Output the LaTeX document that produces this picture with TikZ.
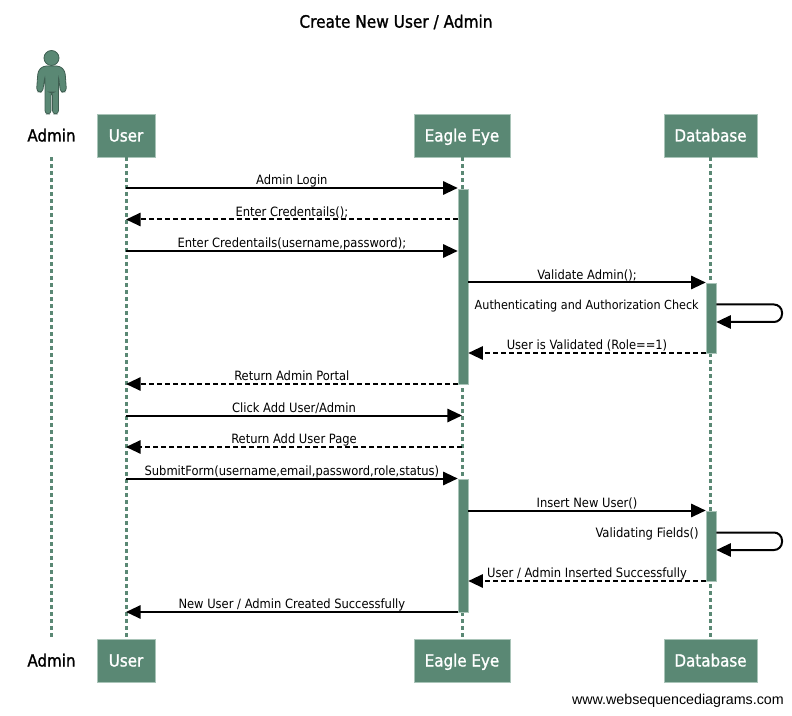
\documentclass[tikz,border=0pt]{standalone}
\usepackage{xcolor}
\usepackage{fontspec}
\usetikzlibrary{arrows.meta}
\setmainfont{DejaVu Sans Condensed}
\newfontfamily\headfont[FakeBold=1.2]{DejaVu Sans Condensed}
\newfontfamily\footfont{Liberation Sans}
\definecolor{seqgreen}{HTML}{5A8874}
\definecolor{seqedge}{HTML}{A9C4B8}
\definecolor{seqdark}{HTML}{3F5F52}
\tikzset{
  party/.style={draw=seqedge, fill=seqgreen, minimum height=32.25pt, inner sep=0pt,
               text height=11.5pt, text depth=2.5pt, align=center,
               font=\headfont\fontsize{12.6}{15}\selectfont, text=white},
  actorname/.style={minimum width=36pt, minimum height=32.25pt, inner sep=0pt,
               text height=11.5pt, text depth=2.5pt,
               font=\headfont\fontsize{12.6}{15}\selectfont, text=black},
  active/.style={draw=seqedge, fill=seqgreen, minimum width=7.5pt, inner sep=0pt},
  lifeline/.style={seqgreen, line width=2.25pt, dash pattern=on 3pt off 2.25pt},
  msg/.style={-{Triangle[length=11pt,width=10pt]}, line width=1.5pt, black},
  reply/.style={msg, dash pattern=on 3.75pt off 2.25pt},
  msgtext/.style={anchor=base, yshift=2.4pt, inner sep=0pt, font=\fontsize{9.6}{11}\selectfont},
  notetext/.style={anchor=east, inner sep=0pt, font=\fontsize{9.35}{11}\selectfont},
}
\begin{document}
\begin{tikzpicture}[x=0.75pt, y=-0.75pt]
  \useasboundingbox (0,0) rectangle (792,716);

  \node[font=\headfont\fontsize{12.8}{15}\selectfont] (title) at (396,22) {Create New User / Admin};

  % parties
  \node[actorname] (admintop) at (51.5,135.5) {Admin};
  \node[party, minimum width=43.5pt] (usertop) at (126,135.5) {User};
  \node[party, minimum width=72pt] (eagletop) at (462,135.5) {Eagle Eye};
  \node[party, minimum width=69.75pt] (dbtop) at (710.5,135.5) {Database};
  \node[actorname] (adminbot) at (51.5,660.5) {Admin};
  \node[party, minimum width=43.5pt] (userbot) at (126,660.5) {User};
  \node[party, minimum width=72pt] (eaglebot) at (462,660.5) {Eagle Eye};
  \node[party, minimum width=69.75pt] (dbbot) at (710.5,660.5) {Database};

  % actor figure
  \fill[seqgreen, draw=seqdark, line width=0.6pt] (51.5,58) circle (7.5);
  \fill[seqgreen, draw=seqdark, line width=0.6pt, rounded corners=2.5]
    (43,66) -- (60,66) -- (65,71) -- (66.5,91.5) -- (60.5,92.5) -- (58.5,76)
    -- (58.5,114) -- (52.5,114) -- (52.5,92) -- (51,92) -- (51,114) -- (45,114)
    -- (45,76) -- (42.5,92.5) -- (36.5,91.5) -- (38,71) -- cycle;

  % life lines
  \draw[lifeline] (admintop) -- (adminbot);
  \draw[lifeline] (usertop) -- (userbot);
  \draw[lifeline] (eagletop) -- (eaglebot);
  \draw[lifeline] (dbtop) -- (dbbot);

  % activations
  \node[active, minimum height=146.25pt] (eagleone) at (463,286.5) {};
  \node[active, minimum height=99.75pt] (eagletwo) at (463,545.5) {};
  \node[active, minimum height=52.5pt] (dbone) at (711,318) {};
  \node[active, minimum height=52.5pt] (dbtwo) at (711,546) {};

  % rows
  \coordinate (r1) at (0,188);
  \coordinate (r2) at (0,219.5);
  \coordinate (r3) at (0,251);
  \coordinate (r4) at (0,282.5);
  \coordinate (r5) at (0,353);
  \coordinate (r6) at (0,384);
  \coordinate (r7) at (0,415.5);
  \coordinate (r8) at (0,447);
  \coordinate (r9) at (0,478.5);
  \coordinate (r10) at (0,510.5);
  \coordinate (r11) at (0,581);
  \coordinate (r12) at (0,612);

  % messages
  \draw[msg] (usertop |- r1) -- node[msgtext]{Admin Login} (eagleone.west |- r1);
  \draw[reply] (eagleone.west |- r2) -- node[msgtext]{Enter Credentails();} (usertop |- r2);
  \draw[msg] (usertop |- r3) -- node[msgtext]{Enter Credentails(username,password);} (eagleone.west |- r3);
  \draw[msg] (eagleone.east |- r4) -- node[msgtext]{Validate Admin();} (dbone.west |- r4);
  \node[notetext] (checktext) at (699,306) {Authenticating and Authorization Check};
  \draw[msg, rounded corners=6pt] (dbone.east |- 0,304.5) -- (782,304.5) -- (782,322) -- (dbone.east |- 0,322);
  \draw[reply] (dbone.west |- r5) -- node[msgtext]{User is Validated (Role==1)} (eagleone.east |- r5);
  \draw[reply] (eagleone.west |- r6) -- node[msgtext]{Return Admin Portal} (usertop |- r6);
  \draw[msg] (usertop |- r7) -- node[msgtext]{Click Add User/Admin} (eagletop |- r7);
  \draw[reply] (eagletop |- r8) -- node[msgtext]{Return Add User Page} (usertop |- r8);
  \draw[msg] (usertop |- r9) -- node[msgtext]{SubmitForm(username,email,password,role,status)} (eagletwo.west |- r9);
  \draw[msg] (eagletwo.east |- r10) -- node[msgtext]{Insert New User()} (dbtwo.west |- r10);
  \node[notetext, font=\fontsize{9.7}{11}\selectfont] (validtext) at (699,534) {Validating Fields()};
  \draw[msg, rounded corners=6pt] (dbtwo.east |- 0,532.5) -- (782,532.5) -- (782,550) -- (dbtwo.east |- 0,550);
  \draw[reply] (dbtwo.west |- r11) -- node[msgtext]{User / Admin Inserted Successfully} (eagletwo.east |- r11);
  \draw[msg] (eagletwo.west |- r12) -- node[msgtext]{New User / Admin Created Successfully} (usertop |- r12);

  \node[anchor=east, inner sep=0pt, font=\footfont\fontsize{10.7}{12}\selectfont] (site) at (784,701) {www.websequencediagrams.com};
\end{tikzpicture}
\end{document}
